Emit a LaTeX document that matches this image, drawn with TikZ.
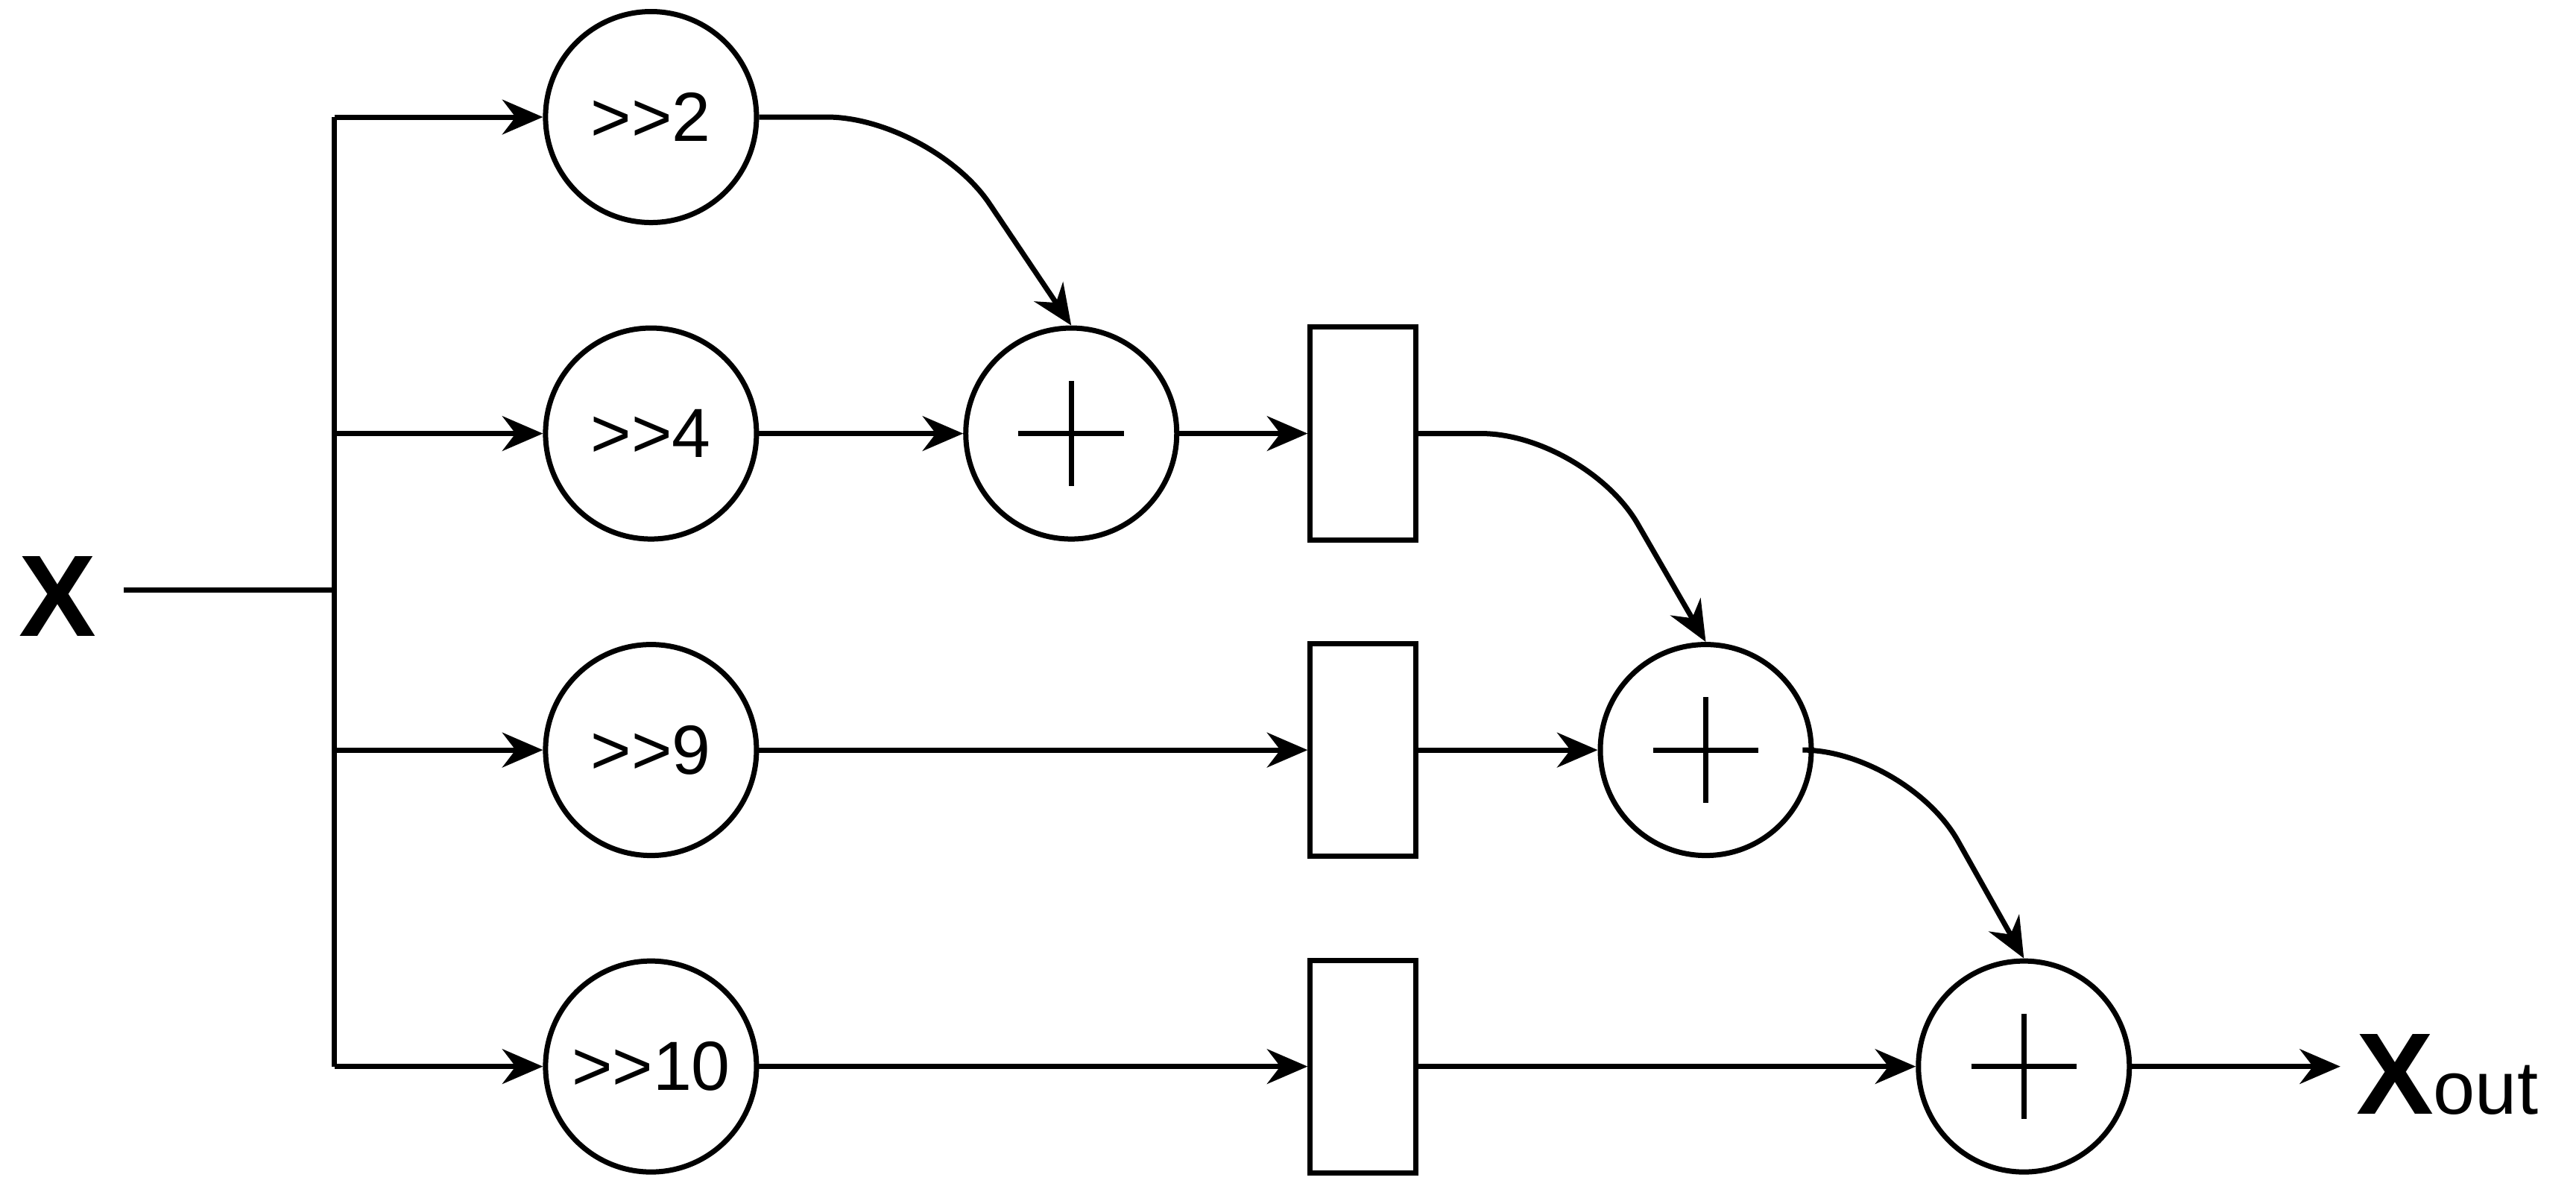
\documentclass[tikz,border=0pt]{standalone}
\usepackage{fontspec}
\setmainfont{Liberation Sans}
\usetikzlibrary{arrows.meta}
\begin{document}
\begin{tikzpicture}[x=0.01cm,y=-0.01cm,
  line width=0.9pt,
  arr/.style={-{Stealth[length=7pt,width=6pt]}},
  shifter/.style={circle,draw,minimum size=128*0.01cm,inner sep=0pt,font=\fontsize{12}{14}\selectfont},
  adder/.style={circle,draw,minimum size=128*0.01cm,inner sep=0pt},
  reg/.style={rectangle,draw,minimum width=64*0.01cm,minimum height=129*0.01cm,inner sep=0pt}]
\useasboundingbox (0,0) rectangle (1563,723);
\node[font=\bfseries\fontsize{20}{24}\selectfont] (x) at (35,362) {X};
\coordinate (xs) at (75,358);
\coordinate (bj) at (203,358);
\coordinate (bt) at (203,71);
\coordinate (bb) at (203,647);
\node[shifter] (s2) at (395,71) {>{}>2};
\node[shifter] (s4) at (395,263) {>{}>4};
\node[shifter] (s9) at (395,455) {>{}>9};
\node[shifter] (s10) at (395,647) {>{}>10};
\node[adder] (a1) at (650,263) {};
\node[adder] (a2) at (1035,455) {};
\node[adder] (a3) at (1228,647) {};
\foreach \a in {a1,a2,a3}{
  \draw ([xshift=-32*0.01cm]\a.center) -- ([xshift=32*0.01cm]\a.center);
  \draw ([yshift=32*0.01cm]\a.center) -- ([yshift=-32*0.01cm]\a.center);}
\node[reg] (r1) at (827,263) {};
\node[reg] (r2) at (827,455) {};
\node[reg] (r3) at (827,647) {};
\node[anchor=west,inner sep=0pt] (xo) at (1428,652) {\bfseries\fontsize{20}{24}\selectfont X\normalfont\fontsize{13}{15}\selectfont out};
\draw (xs) -- (bj);
\draw (bt) -- (bb);
\draw[arr] (bt) -- (s2.west);
\draw[arr] (203,263) -- (s4.west);
\draw[arr] (203,455) -- (s9.west);
\draw[arr] (bb) -- (s10.west);
\draw[arr,rounded corners=18] (s2.east) -- (565,71) -- (a1.north);
\draw[arr] (s4.east) -- (a1.west);
\draw[arr] (a1.east) -- (r1.west);
\draw[arr,rounded corners=18] (r1.east) -- (962,263) -- (a2.north);
\draw[arr] (s9.east) -- (r2.west);
\draw[arr] (r2.east) -- (a2.west);
\draw[arr,rounded corners=18] (a2.east) -- (1157,455) -- (a3.north);
\draw[arr] (s10.east) -- (r3.west);
\draw[arr] (r3.east) -- (a3.west);
\draw[arr] (a3.east) -- (1420,647);
\end{tikzpicture}
\end{document}
